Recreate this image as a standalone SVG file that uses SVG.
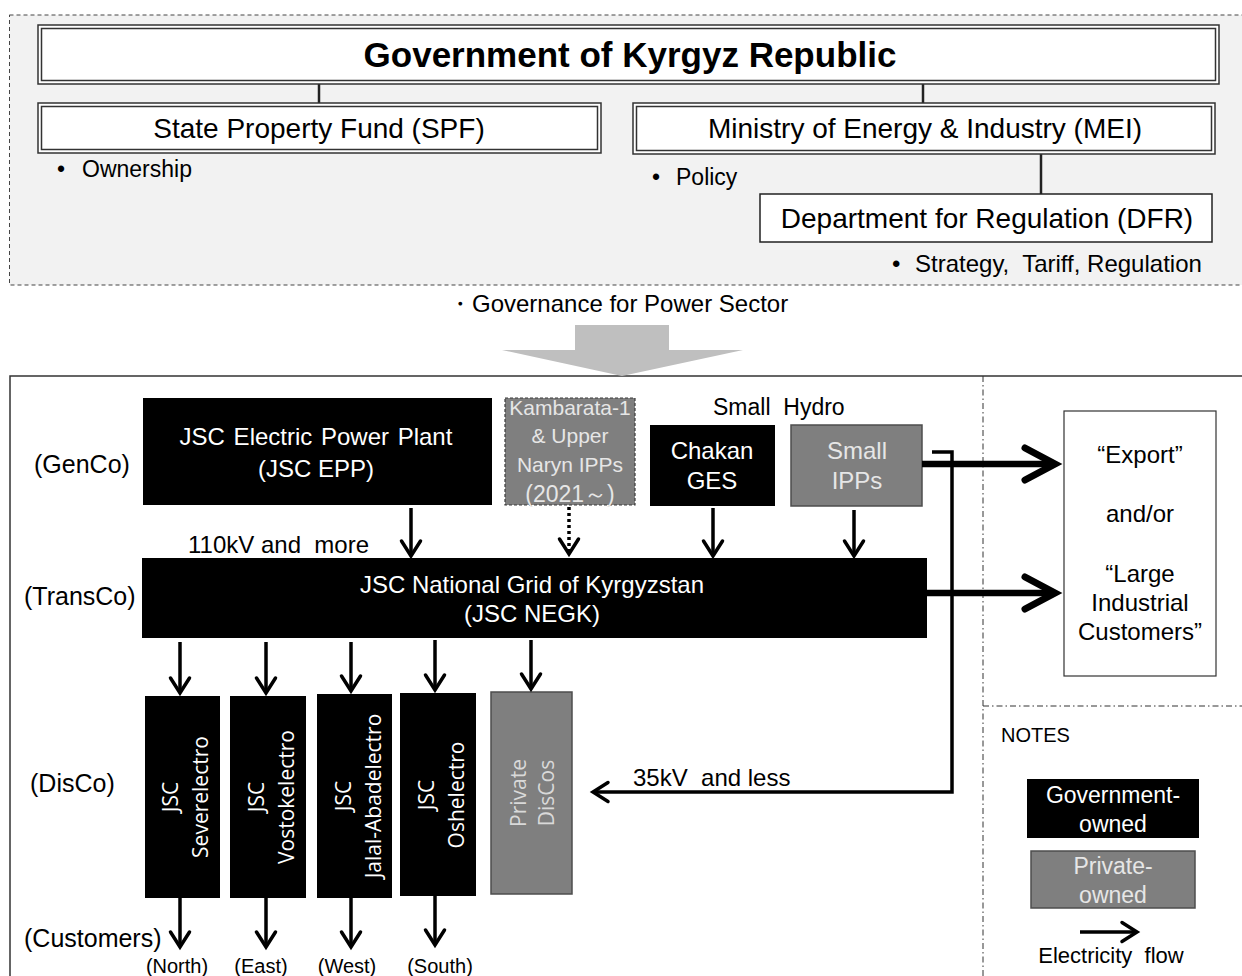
<svg xmlns="http://www.w3.org/2000/svg" width="1242" height="976" viewBox="0 0 1242 976">
<style>
text{font-family:"Liberation Sans",Arial,sans-serif;fill:#000}
.t23{font-size:23px}
.t24{font-size:24px}
.t25{font-size:25px}
.t28{font-size:28px}
.w{fill:#fff}
.lg{fill:#e6e6e6}
.lg2{fill:#d9d9d9}
.v{font-family:"Open Sans","Noto Sans",sans-serif;font-size:21px}
.blk{fill:#000}
.gry{fill:#7f7f7f;stroke:#4d4d4d;stroke-width:1.5}
.dbl{fill:#fff;stroke:#333;stroke-width:1.5}
.ln{stroke:#000;stroke-width:3.5;fill:none}
.thick{stroke:#000;stroke-width:6.5;fill:none}
.dd{stroke:#333;stroke-width:1;stroke-dasharray:6 3 1.5 3;fill:none}
</style>
<defs>
<marker id="ah" markerUnits="userSpaceOnUse" viewBox="-20 -14 26 28" markerWidth="26" markerHeight="28" refX="-1" refY="0" orient="auto">
<path d="M-15,-9.5 L0,0 L-15,9.5" fill="none" stroke="#000" stroke-width="3.5" stroke-linecap="round" stroke-linejoin="miter"/>
</marker>
<marker id="big" markerUnits="userSpaceOnUse" viewBox="-40 -24 48 48" markerWidth="48" markerHeight="48" refX="-3" refY="0" orient="auto">
<path d="M-30,-16 L0,0 L-30,16" fill="none" stroke="#000" stroke-width="7" stroke-linecap="round" stroke-linejoin="miter"/>
</marker>
</defs>

<!-- Government area -->
<g id="gov-area">
<rect x="9.5" y="15" width="1250" height="270" fill="#f2f2f2" stroke="#444" stroke-width="1" stroke-dasharray="4 3"/>
</g>
<g id="connectors-top" stroke="#222" stroke-width="2.5">
<line x1="319" y1="84" x2="319" y2="103"/>
<line x1="923" y1="84" x2="923" y2="103"/>
<line x1="1041" y1="154" x2="1041" y2="194"/>
</g>
<g id="gov">
<rect x="38" y="25" width="1181" height="59" class="dbl"/>
<rect x="41.5" y="28.5" width="1174" height="52" fill="none" stroke="#333" stroke-width="1.5"/>
<text x="630" y="67" text-anchor="middle" font-size="35" font-weight="bold">Government of Kyrgyz Republic</text>
</g>
<g id="spf">
<rect x="38" y="103" width="563" height="50" class="dbl"/>
<rect x="41.5" y="106.5" width="556" height="43" fill="none" stroke="#333" stroke-width="1.5"/>
<text x="319" y="138" text-anchor="middle" class="t28">State Property Fund (SPF)</text>
<text y="177" class="t23"><tspan x="57">•</tspan><tspan x="82">Ownership</tspan></text>
</g>
<g id="mei">
<rect x="633" y="103" width="582" height="51" class="dbl"/>
<rect x="636.5" y="106.5" width="575" height="44" fill="none" stroke="#333" stroke-width="1.5"/>
<text x="925" y="138" text-anchor="middle" class="t28">Ministry of Energy &amp; Industry (MEI)</text>
<text y="185" class="t23"><tspan x="652">•</tspan><tspan x="676">Policy</tspan></text>
</g>
<g id="dfr">
<rect x="760" y="194" width="452" height="48" fill="#fff" stroke="#222" stroke-width="1.5"/>
<text x="987" y="228" text-anchor="middle" class="t28">Department for Regulation (DFR)</text>
<text y="272" class="t24" xml:space="preserve"><tspan x="892">•</tspan><tspan x="915">Strategy,  Tariff, Regulation</tspan></text>
</g>

<g id="governance">
<text x="448" y="312" font-size="24" font-family="'Liberation Sans','Noto Sans CJK JP',sans-serif">・Governance for Power Sector</text>
</g>

<!-- Power sector panel -->
<g id="panel">
<rect x="10" y="376" width="1250" height="620" fill="#fff" stroke="#333" stroke-width="1.5"/>
<line x1="983" y1="376" x2="983" y2="976" class="dd"/>
<line x1="983" y1="706" x2="1242" y2="706" class="dd"/>
</g>
<g id="big-arrow">
<polygon points="575,325 669,325 669,350 743,350 622,376 502,350 575,350" fill="#bfbfbf"/>
</g>

<g id="labels">
<text x="34" y="473" class="t25">(GenCo)</text>
<text x="24" y="605" class="t25">(TransCo)</text>
<text x="30" y="792" class="t25">(DisCo)</text>
<text x="24" y="947" class="t25">(Customers)</text>
<text x="188" y="553" class="t24" xml:space="preserve">110kV and  more</text>
<text x="713" y="415" class="t23" xml:space="preserve">Small  Hydro</text>
<text x="633" y="786" class="t24" xml:space="preserve">35kV  and less</text>
<text x="177" y="973" text-anchor="middle" font-size="20">(North)</text>
<text x="261" y="973" text-anchor="middle" font-size="20">(East)</text>
<text x="347" y="973" text-anchor="middle" font-size="20">(West)</text>
<text x="440" y="973" text-anchor="middle" font-size="20">(South)</text>
</g>

<g id="epp">
<rect x="143" y="398" width="349" height="107" class="blk"/>
<text x="316" y="445" text-anchor="middle" class="t24 w" word-spacing="2">JSC Electric Power Plant</text>
<text x="316" y="477" text-anchor="middle" class="t24 w">(JSC EPP)</text>
</g>
<g id="kambarata">
<rect x="505" y="398" width="130" height="107" fill="#7f7f7f" stroke="#3a3a3a" stroke-width="1.2" stroke-dasharray="3 2"/>
<text x="570" y="415" text-anchor="middle" font-size="21" class="lg">Kambarata-1</text>
<text x="570" y="443" text-anchor="middle" font-size="21" class="lg">&amp; Upper</text>
<text x="570" y="472" text-anchor="middle" font-size="21" class="lg">Naryn IPPs</text>
<text x="570" y="502" text-anchor="middle" font-size="23" font-family="'Liberation Sans','Noto Sans CJK JP',sans-serif" class="lg">(2021～)</text>
</g>
<g id="chakan">
<rect x="650" y="425" width="125" height="81" class="blk"/>
<text x="712" y="459" text-anchor="middle" class="t24 w">Chakan</text>
<text x="712" y="489" text-anchor="middle" class="t24 w">GES</text>
</g>
<g id="small-ipps">
<rect x="791" y="425" width="131" height="81" class="gry"/>
<text x="857" y="459" text-anchor="middle" class="t24 lg">Small</text>
<text x="857" y="489" text-anchor="middle" class="t24 lg">IPPs</text>
</g>
<g id="negk">
<rect x="142" y="558" width="785" height="80" class="blk"/>
<text x="532" y="593" text-anchor="middle" class="t24 w">JSC National Grid of Kyrgyzstan</text>
<text x="532" y="622" text-anchor="middle" class="t24 w">(JSC NEGK)</text>
</g>
<g id="export">
<rect x="1064" y="411" width="152" height="265" fill="#fff" stroke="#333" stroke-width="1.2"/>
<text x="1140" y="463" text-anchor="middle" class="t24">“Export”</text>
<text x="1140" y="522" text-anchor="middle" class="t24">and/or</text>
<text x="1140" y="582" text-anchor="middle" class="t24">“Large</text>
<text x="1140" y="611" text-anchor="middle" class="t24">Industrial</text>
<text x="1140" y="640" text-anchor="middle" class="t24">Customers”</text>
</g>

<g id="severelectro">
<rect x="145" y="696" width="75" height="202" class="blk"/>
<text transform="translate(178,797) rotate(-90)" text-anchor="middle" class="v w">JSC</text>
<text transform="translate(208,797) rotate(-90)" text-anchor="middle" class="v w">Severelectro</text>
</g>
<g id="vostokelectro">
<rect x="230" y="696" width="76" height="202" class="blk"/>
<text transform="translate(264,797) rotate(-90)" text-anchor="middle" class="v w">JSC</text>
<text transform="translate(294,797) rotate(-90)" text-anchor="middle" class="v w">Vostokelectro</text>
</g>
<g id="jalal-abadelectro">
<rect x="317" y="694" width="75" height="204" class="blk"/>
<text transform="translate(351,796) rotate(-90)" text-anchor="middle" class="v w">JSC</text>
<text transform="translate(381,796) rotate(-90)" text-anchor="middle" class="v w">Jalal-Abadelectro</text>
</g>
<g id="oshelectro">
<rect x="400" y="693" width="76" height="203" class="blk"/>
<text transform="translate(434,795) rotate(-90)" text-anchor="middle" class="v w">JSC</text>
<text transform="translate(464,795) rotate(-90)" text-anchor="middle" class="v w">Oshelectro</text>
</g>
<g id="private-discos">
<rect x="491" y="692" width="81" height="202" class="gry"/>
<text transform="translate(526,793) rotate(-90)" text-anchor="middle" class="v lg2">Private</text>
<text transform="translate(554,793) rotate(-90)" text-anchor="middle" class="v lg2">DisCos</text>
</g>

<g id="notes">
<text x="1001" y="742" font-size="20">NOTES</text>
<rect x="1027" y="779" width="172" height="59" class="blk"/>
<text x="1113" y="803" text-anchor="middle" class="t23 w">Government-</text>
<text x="1113" y="832" text-anchor="middle" class="t23 w">owned</text>
<rect x="1031" y="851" width="164" height="57" class="gry"/>
<text x="1113" y="874" text-anchor="middle" class="t23 lg">Private-</text>
<text x="1113" y="903" text-anchor="middle" class="t23 lg">owned</text>
<line x1="1080" y1="932" x2="1136" y2="932" class="ln" marker-end="url(#ah)"/>
<text x="1111" y="963" text-anchor="middle" font-size="22" xml:space="preserve">Electricity  flow</text>
</g>

<g id="connectors">
<line x1="411" y1="508" x2="411" y2="555" class="ln" marker-end="url(#ah)"/>
<line x1="569" y1="507" x2="569" y2="553" class="ln" stroke-dasharray="3 3" marker-end="url(#ah)"/>
<line x1="713" y1="508" x2="713" y2="555" class="ln" marker-end="url(#ah)"/>
<line x1="854" y1="510" x2="854" y2="555" class="ln" marker-end="url(#ah)"/>
<line x1="180" y1="642" x2="180" y2="692" class="ln" marker-end="url(#ah)"/>
<line x1="266" y1="642" x2="266" y2="692" class="ln" marker-end="url(#ah)"/>
<line x1="351" y1="642" x2="351" y2="690" class="ln" marker-end="url(#ah)"/>
<line x1="435" y1="640" x2="435" y2="689" class="ln" marker-end="url(#ah)"/>
<line x1="531" y1="640" x2="531" y2="688" class="ln" marker-end="url(#ah)"/>
<line x1="180" y1="898" x2="180" y2="946" class="ln" marker-end="url(#ah)"/>
<line x1="266" y1="898" x2="266" y2="946" class="ln" marker-end="url(#ah)"/>
<line x1="351" y1="898" x2="351" y2="946" class="ln" marker-end="url(#ah)"/>
<line x1="435" y1="896" x2="435" y2="944" class="ln" marker-end="url(#ah)"/>
<path d="M932,452 H952 V792 H594" class="ln" marker-end="url(#ah)"/>
<line x1="922" y1="464" x2="1052" y2="464" class="thick" marker-end="url(#big)"/>
<line x1="927" y1="593" x2="1052" y2="593" class="thick" marker-end="url(#big)"/>
</g>
</svg>
